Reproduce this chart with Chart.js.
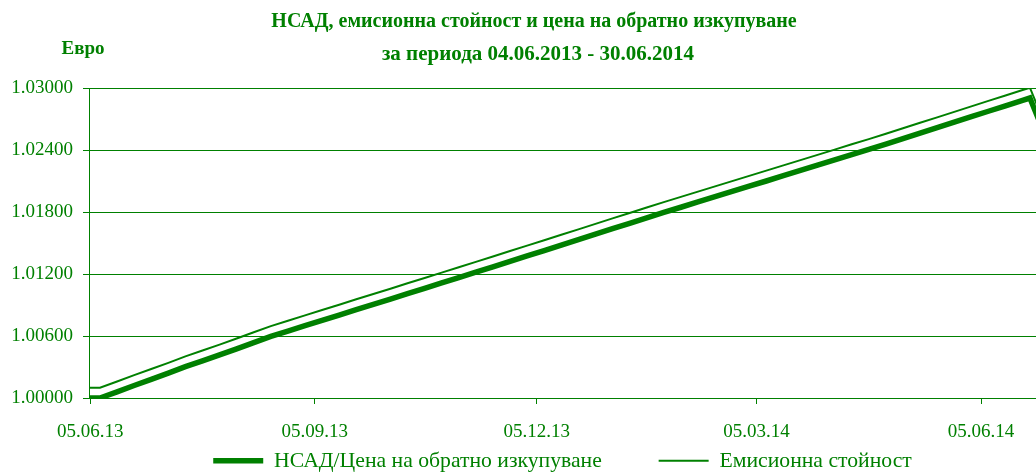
<!DOCTYPE html>
<html>
<head>
<meta charset="utf-8">
<script src="https://cdn.jsdelivr.net/npm/chart.js@4.4.1/dist/chart.umd.min.js"></script>
<style>
html, body { margin: 0; padding: 0; background: #fff; }
</style>
</head>
<body>
<canvas id="mycanvas" width="1036" height="472"></canvas>
<script>
// days counted from 04.06.2013
var days = [0, 5, 12, 19, 26, 33, 40, 47, 54, 61, 68, 75,
	82, 89, 96, 103, 110, 117, 124, 131, 138, 145, 152,
	159, 166, 173, 180, 187, 194, 201, 208, 215, 222, 229, 236,
	243, 250, 257, 264, 271, 278, 285, 292, 299, 306, 313,
	320, 327, 334, 341, 348, 355, 362, 369, 376, 383,
	386, 391];

var navPrice = [1.00000, 1.00000, 1.00060, 1.00121, 1.00180, 1.00240, 1.00303, 1.00360, 1.00417, 1.00476, 1.00536, 1.00596,
	1.00648, 1.00700, 1.00752, 1.00803, 1.00855, 1.00906, 1.00958, 1.01010, 1.01062, 1.01113, 1.01165,
	1.01217, 1.01270, 1.01322, 1.01375, 1.01427, 1.01480, 1.01532, 1.01585, 1.01638, 1.01690, 1.01743, 1.01796,
	1.01846, 1.01897, 1.01948, 1.01999, 1.02050, 1.02100, 1.02151, 1.02202, 1.02253, 1.02304, 1.02355,
	1.02405, 1.02458, 1.02511, 1.02564, 1.02616, 1.02669, 1.02722, 1.02775, 1.02828, 1.02880,
	1.02903, 1.02613];

var issuePrice = [1.00100, 1.00100, 1.00160, 1.00221, 1.00280, 1.00340, 1.00403, 1.00460, 1.00517, 1.00576, 1.00636, 1.00696,
	1.00748, 1.00800, 1.00852, 1.00903, 1.00955, 1.01006, 1.01058, 1.01110, 1.01162, 1.01213, 1.01265,
	1.01317, 1.01370, 1.01422, 1.01475, 1.01527, 1.01580, 1.01632, 1.01685, 1.01738, 1.01790, 1.01843, 1.01896,
	1.01946, 1.01997, 1.02048, 1.02099, 1.02150, 1.02200, 1.02251, 1.02302, 1.02353, 1.02404, 1.02455,
	1.02505, 1.02558, 1.02611, 1.02664, 1.02716, 1.02769, 1.02822, 1.02875, 1.02928, 1.02980,
	1.03003, 1.02715];

var tickDays = [1, 93, 184, 274, 366];
var tickLabels = ['05.06.13', '05.09.13', '05.12.13', '05.03.14', '05.06.14'];
var yTicks = [1.000, 1.006, 1.012, 1.018, 1.024, 1.030];

var seriesNames = ['НСАД/Цена на обратно изкупуване', 'Емисионна стойност'];
var titleLines = ['НСАД, емисионна стойност и цена на обратно изкупуване', 'за периода 04.06.2013 - 30.06.2014'];
var yUnit = 'Евро';

var green = '#008000';
var fontFamily = '"Liberation Serif", "Times New Roman", serif';

function points(values){
	var out = [];
	for(var i in values){
		out.push({x: days[i], y: values[i]});
	}
	return out;
}

var textPlugin = {
	id: 'texts',
	beforeInit: function(chart){
		// legend gets whatever is left under the x axis
		var fit = chart.legend.fit;
		chart.legend.fit = function(){
			fit.call(this);
			this.height = 30;
		};
	},
	afterDraw: function(chart){
		var ctx = chart.ctx;
		ctx.save();
		ctx.fillStyle = green;
		ctx.textAlign = 'center';
		ctx.textBaseline = 'middle';
		ctx.font = 'bold 20px ' + fontFamily;
		ctx.fillText(titleLines[0], 534, 22);
		ctx.font = 'bold 21px ' + fontFamily;
		ctx.fillText(titleLines[1], 538, 55);
		ctx.font = 'bold 19px ' + fontFamily;
		ctx.fillText(yUnit, 83, 49);
		ctx.restore();
	}
};

var chartdata = {
	datasets: [
		{
			label: seriesNames[0],
			data: points(navPrice),
			borderColor: green,
			backgroundColor: green,
			borderWidth: 5.5,
			pointRadius: 0,
			tension: 0
		},
		{
			label: seriesNames[1],
			data: points(issuePrice),
			borderColor: green,
			backgroundColor: green,
			borderWidth: 2,
			pointRadius: 0,
			tension: 0
		}
	]
};

var ctx = document.getElementById('mycanvas');

var lineGraph = new Chart(ctx, {
	type: 'line',
	data: chartdata,
	plugins: [textPlugin],
	options: {
		responsive: false,
		animation: false,
		devicePixelRatio: 1,
		layout: { padding: { top: 88, left: 0, right: 0, bottom: 0 } },
		plugins: {
			title: { display: false },
			tooltip: { enabled: false },
			legend: {
				position: 'bottom',
				fullSize: false,
				labels: {
					usePointStyle: true,
					pointStyle: 'line',
					pointStyleWidth: 50,
					color: green,
					font: { family: fontFamily, size: 21.7 },
					padding: 8,
					generateLabels: function(chart){
						var items = Chart.defaults.plugins.legend.labels.generateLabels(chart);
						// wider gap between the two entries
						items[0].text += '\u2003\u2003 ';
						return items;
					}
				}
			}
		},
		scales: {
			x: {
				type: 'linear',
				min: 0.5,
				max: 388.5,
				afterBuildTicks: function(scale){
					scale.ticks = tickDays.map(function(d){ return {value: d}; });
				},
				afterFit: function(scale){ scale.height = 44; },
				ticks: {
					autoSkip: false,
					maxRotation: 0,
					color: green,
					padding: 17,
					font: { family: fontFamily, size: 19 },
					callback: function(value, index){ return tickLabels[index]; }
				},
				grid: { drawOnChartArea: false, color: green, tickLength: 6 },
				border: { color: green }
			},
			y: {
				min: 1.0,
				max: 1.03,
				afterBuildTicks: function(scale){
					scale.ticks = yTicks.map(function(v){ return {value: v}; });
				},
				afterFit: function(scale){ scale.width = 89; },
				ticks: {
					color: green,
					padding: 10,
					font: { family: fontFamily, size: 19 },
					callback: function(value){ return Number(value).toFixed(5); }
				},
				grid: { color: green, tickLength: 6 },
				border: { color: green }
			}
		}
	}
});
</script>
</body>
</html>
